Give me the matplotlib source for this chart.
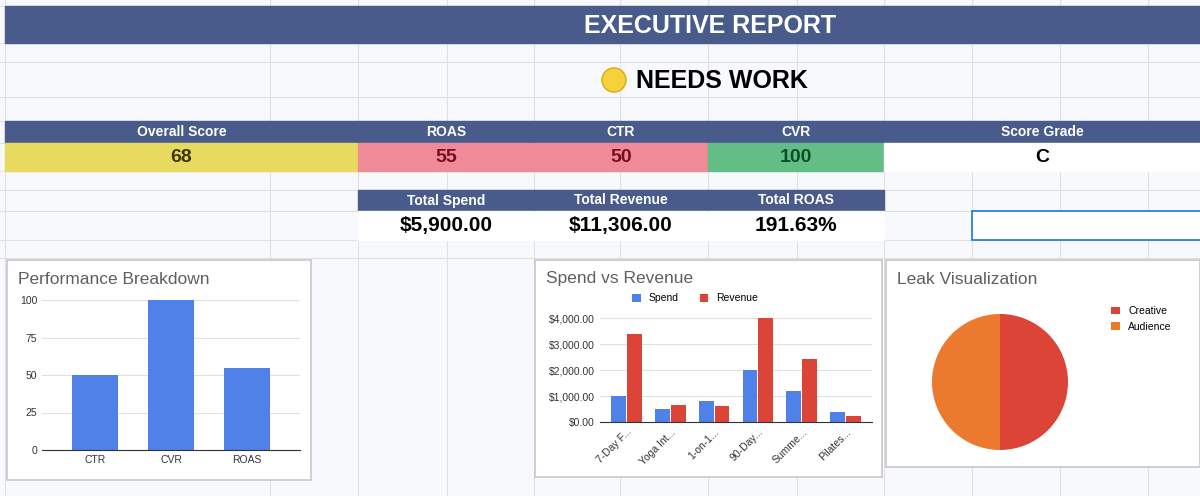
import matplotlib

matplotlib.use("Agg")
import matplotlib.pyplot as plt
from matplotlib.patches import Rectangle, Circle

W, H = 1200, 496
NAVY = "#485b8b"
GRID = "#dfe1e6"

score_labels = ["Overall Score", "ROAS", "CTR", "CVR", "Score Grade"]
score_values = ["68", "55", "50", "100", "C"]
total_labels = ["Total Spend", "Total Revenue", "Total ROAS"]
total_values = ["$5,900.00", "$11,306.00", "191.63%"]

perf_cats = ["CTR", "CVR", "ROAS"]
perf_vals = [50, 100, 55]

campaigns = ["7-Day F...", "Yoga Int...", "1-on-1...", "90-Day...", "Summe...", "Pilates..."]
spend = [1000, 500, 800, 2000, 1200, 400]
revenue = [3376, 660, 610, 4000, 2420, 240]

leak_labels = ["Creative", "Audience"]
leak_vals = [50, 50]

plt.rcParams["font.family"] = ["Liberation Sans", "DejaVu Sans"]
fig = plt.figure(figsize=(12, 4.96), dpi=100)
bg = fig.add_axes([0, 0, 1, 1])
bg.set_xlim(0, W)
bg.set_ylim(H, 0)
bg.axis("off")
fig.patch.set_facecolor("#f8f9fd")

# spreadsheet grid
for x in [5, 270, 358, 447, 534, 620, 708, 797, 884, 972, 1060, 1148]:
    bg.plot([x, x], [0, H], color=GRID, lw=0.8, zorder=0)
for y in [6, 43, 62, 97, 121, 143, 171, 190, 211, 240, 258]:
    bg.plot([0, W], [y, y], color=GRID, lw=0.8, zorder=0)


def cell(x0, x1, y0, y1, color, text="", tcolor="white", size=10, bold=True):
    bg.add_patch(Rectangle((x0, y0), x1 - x0, y1 - y0, color=color, zorder=1))
    if text:
        bg.text((x0 + x1) / 2, (y0 + y1) / 2, text, ha="center", va="center",
                color=tcolor, fontsize=size, fontweight="bold" if bold else "normal", zorder=2)


cell(5, W, 6, 43, NAVY)
bg.text(710, 26, "EXECUTIVE REPORT", ha="center", va="center", color="white",
        fontsize=18, fontweight="bold")
bg.add_patch(Circle((614, 80), 12, facecolor="#f7d13a", edgecolor="#d8a915", lw=1, zorder=2))
bg.text(636, 81, "NEEDS WORK", ha="left", va="center", color="black",
        fontsize=18, fontweight="bold")

xs = [5, 358, 534, 708, 884, W]
fills = ["#e7da5f", "#ef8b98", "#ef8b98", "#63bd86", "#ffffff"]
tcols = ["#3d3800", "#7a0b22", "#7a0b22", "#0c4d26", "black"]
for i, lab in enumerate(score_labels):
    cell(xs[i], xs[i + 1], 121, 143, NAVY, lab, size=10)
    cell(xs[i], xs[i + 1], 143, 171, fills[i], score_values[i], tcolor=tcols[i], size=14)

txs = [358, 534, 708, 884]
for i, lab in enumerate(total_labels):
    cell(txs[i], txs[i + 1], 190, 211, NAVY, lab, size=10)
    cell(txs[i], txs[i + 1], 211, 240, "#ffffff", total_values[i], tcolor="black", size=15)
bg.add_patch(Rectangle((972, 211), 240, 29, facecolor="white", edgecolor="#1a73e8", lw=1.2, zorder=2))

# chart boxes
for x0, x1, y0, y1, title in [(7, 311, 260, 480, "Performance Breakdown"),
                              (535, 882, 260, 477, "Spend vs Revenue"),
                              (886, 1200, 260, 467, "Leak Visualization")]:
    bg.add_patch(Rectangle((x0, y0), x1 - x0, y1 - y0, facecolor="white",
                           edgecolor="#c8c8c8", lw=1.2, zorder=3))
    bg.text(x0 + 11, y0 + 19, title, ha="left", va="center", color="#5f5f5f",
            fontsize=12.5, zorder=4)


def pax(x0, y0, x1, y1):
    return fig.add_axes([x0 / W, 1 - y1 / H, (x1 - x0) / W, (y1 - y0) / H])


def style(ax):
    for s in ["top", "right", "left"]:
        ax.spines[s].set_visible(False)
    ax.spines["bottom"].set_color("#333333")
    ax.grid(axis="y", color="#e0e0e0", lw=0.8)
    ax.set_axisbelow(True)
    ax.tick_params(length=0, labelsize=7.5, colors="#333333")


ax1 = pax(42, 300, 300, 450)
ax1.bar(perf_cats, perf_vals, width=0.6, color="#4f81e9")
ax1.set_ylim(0, 100)
ax1.set_yticks([0, 25, 50, 75, 100])
ax1.set_xlim(-0.7, 2.7)
style(ax1)

ax2 = pax(600, 318, 872, 422)
n = range(len(campaigns))
ax2.bar([i - 0.18 for i in n], spend, width=0.34, color="#4f81e9", label="Spend")
ax2.bar([i + 0.18 for i in n], revenue, width=0.34, color="#db4437", label="Revenue")
ax2.set_ylim(0, 4000)
ax2.set_yticks([0, 1000, 2000, 3000, 4000])
ax2.set_yticklabels([f"${v:,.2f}" for v in [0, 1000, 2000, 3000, 4000]], fontsize=7.5)
ax2.set_xticks(list(n))
ax2.set_xticklabels(campaigns, rotation=45, ha="right", rotation_mode="anchor")
ax2.set_xlim(-0.6, 5.6)
style(ax2)
ax2.legend(loc="lower center", bbox_to_anchor=(0.35, 1.05), ncol=2, frameon=False,
           fontsize=7.5, handlelength=0.8, handleheight=0.8, columnspacing=2)

ax3 = pax(913, 297, 1087, 467)
ax3.pie(leak_vals, colors=["#db4437", "#ec7a2e"], startangle=90, counterclock=False,
        wedgeprops=dict(linewidth=0))
ax3.set_aspect("equal")
ax3.legend(leak_labels, loc="upper left", bbox_to_anchor=(1.1, 1.0), frameon=False,
           fontsize=7.5, handlelength=0.8, markerscale=0.8)

fig.savefig("out.png", dpi=100, facecolor=fig.get_facecolor())
